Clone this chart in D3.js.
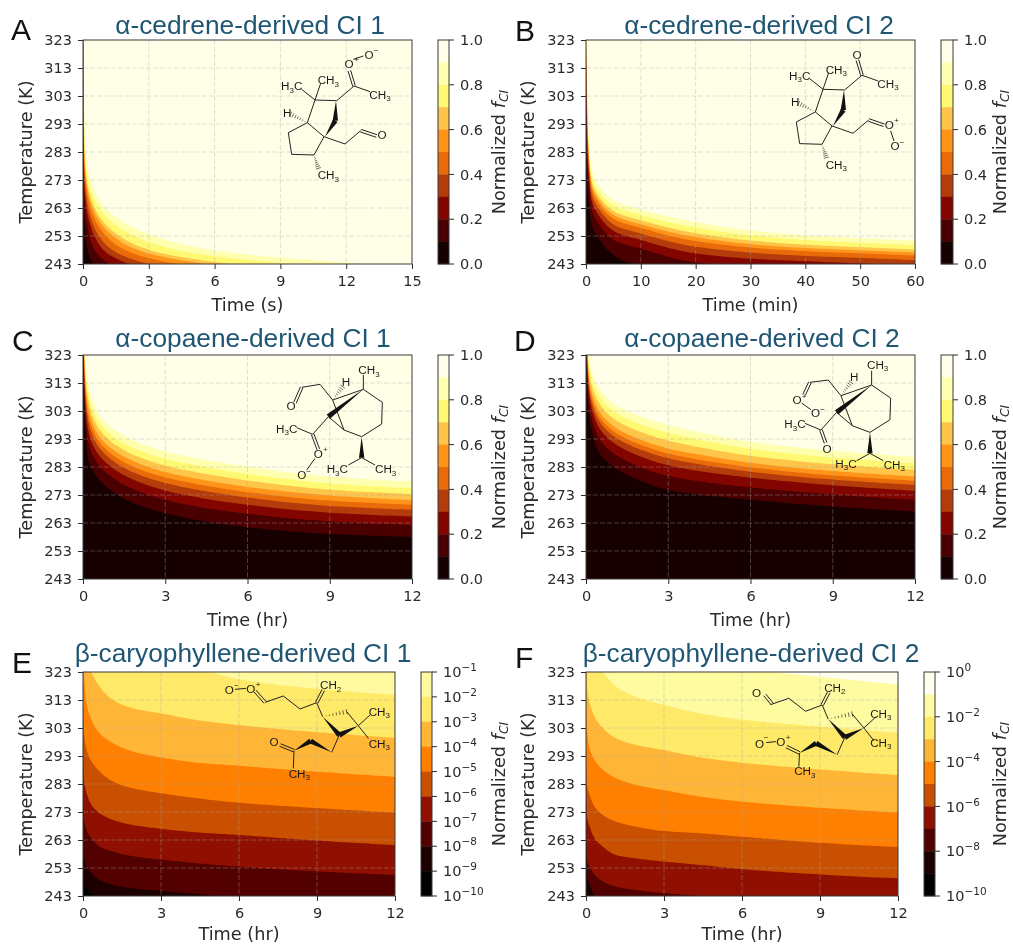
<!DOCTYPE html>
<html><head><meta charset="utf-8">
<script src="https://cdnjs.cloudflare.com/ajax/libs/d3/7.8.5/d3.min.js"></script>
<style>
html,body{margin:0;padding:0;background:#fff}
svg{display:block;filter:blur(0.35px)}
</style></head><body>
<script>
// ---------- shared ticks ----------
const tempTicks=[243,253,263,273,283,293,303,313,323];
const timeTicks12=[0,3,6,9,12];
const timeTicks15=[0,3,6,9,12,15];
const timeTicks60=[0,10,20,30,40,50,60];
const linearTicks=[0,0.2,0.4,0.6,0.8,1];
const linearLevels=[0,0.1,0.2,0.3,0.4,0.5,0.6,0.7,0.8,0.9,1];
const logLevelsE=[-10,-9,-8,-7,-6,-5,-4,-3,-2,-1];
const logLevelsF=[-10,-9,-8,-7,-6,-5,-4,-3,-2,-1,0];
const logTicksE=[-10,-9,-8,-7,-6,-5,-4,-3,-2,-1];
const logTicksF=[-10,-8,-6,-4,-2,0];
// band colours, top band first
const linearColors=["#ffffe8","#ffffb0","#fff872","#ffc44a","#ff9418","#e86a08","#b33c0a","#830500","#4a0000","#170000"];
const logColorsE=["#fff9a0","#ffe968","#ffb636","#ff8000","#c85000","#8f1000","#530000","#1c0000","#000000"];
const logColorsF=["#fffff0","#fffba0","#ffe968","#ffb636","#ff8000","#c85000","#8f1000","#530000","#1c0000","#000000"];

// ---------- panel A: crossing times (s) of each contour at aTemps ----------
const aTemps=[323,303,287.5,278.5,271.6,267,260.8,257.2,252.8,249.9,247.2,244.7,243];
const aTimes=[
 [.03,.05,.1,.2,.4,.66,1.32,2,3.3,4.6,6.6,9.9,13.2],
 [.022,.036,.073,.144,.29,.48,.96,1.44,2.4,3.36,4.8,7.2,9.6],
 [.016,.026,.052,.1,.2,.34,.68,1.02,1.7,2.38,3.4,5.1,6.8],
 [.013,.021,.043,.084,.17,.28,.56,.84,1.4,1.96,2.8,4.2,5.6],
 [.01,.016,.033,.065,.13,.22,.43,.65,1.08,1.5,2.15,3.2,4.3],
 [.007,.011,.023,.045,.09,.15,.3,.45,.75,1.05,1.5,2.25,3],
 [.005,.008,.016,.032,.063,.11,.21,.32,.53,.74,1.05,1.58,2.1],
 [.003,.005,.009,.018,.036,.06,.12,.18,.3,.42,.6,.9,1.2],
 [.001,.002,.004,.007,.014,.024,.047,.07,.12,.16,.24,.35,.47]];

// ---------- panel B: contour temperatures (K) at bTimes (min) ----------
const bTimes=[.1,.2,.5,1,2.5,5.5,10,20,30,40,50,60];
const bContours=[
 [323,308,288,277,270.5,265.3,262.5,258,255,253.2,252.2,251.4],
 [318.7,304.3,285.7,275,268.6,263.3,260.5,256,253.2,251.6,250.6,249.8],
 [314.4,300.6,283.4,273.1,266.7,261.4,258.6,254,251.4,249.9,249,248.2],
 [311.4,298,281.8,271.7,265.4,260,257.2,252.6,250.1,248.7,247.9,247.1],
 [308.4,295.4,280.2,270.4,264.1,258.6,255.9,251.2,248.9,247.6,246.8,246],
 [304.1,291.7,277.9,268.4,262.2,256.6,253.9,249.2,247.1,245.9,245.2,244.4],
 [298.9,287.3,275.1,266.1,259.9,254.3,251.6,246.8,244.9,244,243.2,242.4],
 [292,281.4,271.4,263,256.9,251.1,248.5,243.6,242,241,240.5,239.9],
 [280,271,265,257.5,251.6,245.6,242,238,237,236.7,236.2,235.4]];

// ---------- panel C: contour temperatures (K) at cTimes (hr) ----------
const cTimes=[.02,.05,.1,.2,.5,1,2,3,4.5,6,9,12];
const cContours=[
 [340,330,320,312.8,303.3,297.4,291.8,288.5,285.5,283.1,279.6,277.8],
 [337,326.8,316.9,309.5,300.5,294.7,289.1,285.9,282.9,280.5,277.1,275.4],
 [334.3,323.9,314.1,306.6,297.9,292.3,286.7,283.5,280.5,278.2,274.9,273.3],
 [331.7,321,311.3,303.7,295.4,289.9,284.4,281.2,278.2,275.9,272.8,271.2],
 [329.5,318.7,309.1,301.3,293.3,287.9,282.4,279.3,276.3,274,271,269.5],
 [327.3,316.2,306.7,298.9,291.2,285.9,280.4,277.3,274.3,272.1,269.1,267.7],
 [324.3,313,303.6,295.6,288.4,283.2,277.8,274.6,271.6,269.5,266.7,265.3],
 [320.5,308.9,299.7,291.5,284.8,279.8,274.4,271.3,268.3,266.3,263.6,262.3],
 [315,303,294,285.5,279.6,274.8,269.5,266.5,263.5,261.5,259.1,258]];

// ---------- panel D ----------
const dTimes=[.02,.05,.1,.2,.5,1,2,3,4.5,6,9,12];
const dContours=[
 [345,332,323.6,317.5,311,305.7,301,298,294.7,292,288.8,286.7],
 [341.7,329.2,321,314.9,308.2,303,298.2,295.2,292,289.5,286.4,284.3],
 [338.4,326.5,318.4,312.4,305.5,300.3,295.5,292.4,289.4,287,284,282],
 [335.1,323.7,315.8,309.8,302.7,297.6,292.7,289.6,286.8,284.5,281.6,279.6],
 [332.9,321.9,314.1,308.1,300.8,295.8,290.9,287.8,285,282.9,280,278.1],
 [330.8,320.2,312.5,306.5,299.1,294.1,289.2,286.1,283.4,281.3,278.5,276.6],
 [328,317.7,310.2,304.3,296.7,291.7,286.7,283.6,281,279.2,276.5,274.5],
 [323.4,313.9,306.6,300.8,292.9,288,282.9,279.8,277.4,275.7,273.2,271.3],
 [317.5,309,302,296.2,287.9,283.1,278,274.8,272.7,271.3,268.9,267.1]];

// ---------- panel E ----------
const eTimes=[.04,.14,.33,.65,1.17,1.94,3,4.4,6,9,12];
const eContours=[
 [360,350,345,340,335,331,328,324.5,320.4,317,314.8],
 [345,330,323,317.7,312.9,310,308.2,305.8,304,301.5,299.5],
 [322,311.8,305.8,301,297.5,294.5,292.5,290.6,289.5,287.4,285.6],
 [301,295.1,291,287.4,283.8,281.4,279.7,277.9,276.3,274.4,272.8],
 [284.4,279.7,275.5,272.5,270.1,268.3,267,265.7,264.8,262.8,261.2],
 [270.7,266.6,263.6,260.6,258.8,257.2,256,254.7,253.5,251.8,250.5],
 [257,253.5,251.1,248.7,246.9,245.7,244.8,243.7,242.6,241,240],
 [247.5,245.7,243.7,241.8,240,238.5,237,236,235,233,232]];

// ---------- panel F ----------
const fTimes=[.04,.14,.33,.65,1.17,1.94,3,4.4,6,9,12];
const fContours=[
 [360,355,350,345,340,336,332,328,324.5,321.3,318.6],
 [345,335,328,323,317.7,314,311.2,308.2,306,303.5,301.3],
 [317.7,311.8,307,302.9,299.3,296.9,295.1,292.5,290.6,288.2,286.2],
 [302.3,295.7,291.6,288,285,282.6,280.8,278.5,276.7,274.5,272.8],
 [282.6,279,274.9,271.9,269.5,267.7,266.2,265.4,264.2,262,260.5],
 [271.3,267.8,263.6,260.6,257.6,256.4,255.3,254.1,252.6,250.7,249.3],
 [255.9,253.5,250.6,248.2,246.3,245.1,244,243,241.8,240,238],
 [250,247.5,243,241.5,240,238,236,235,234,232,231]];

// ---------- molecule drawings, in reference-crop units ----------
const cedreneBonds=[[945,300,1010,302],[945,300,922,368],[922,368,972,410],[922,368,865,398],[865,398,875,463],[875,463,942,465],[942,465,972,410],
 [945,300,905,268],[945,300,962,250],[1010,302,1062,258],[1062,258,1110,275],[972,410,1035,432],[1035,432,1082,392],
 [1008,302,1006,362,"w"],[975,410,1006,362,"w"],[922,368,872,342,"h"],[942,465,955,505,"h"]];
const cedrene1Extra=[[1062,258,1048,212,"d"],[1082,392,1130,408,"d"],[1060,178,1090,168]];
const cedrene1Labels=[[875,258,"H3C"],[985,240,"CH3"],[1047,192,"O"],[1070,174,"+",1],[1107,163,"O"],[1128,147,"−",1],[1140,283,"CH3"],[862,337,"H"],[1146,405,"O"],[985,525,"CH3"]];
const cedrene2Extra=[[1062,258,1048,212,"d"],[1082,392,1128,408,"d"],[1148,425,1158,455]];
const cedrene2Labels=[[875,258,"H3C"],[985,240,"CH3"],[1047,195,"O"],[1144,407,"O"],[1166,389,"+",1],[1161,470,"O"],[1182,455,"−",1],[1140,283,"CH3"],[862,337,"H"],[985,525,"CH3"]];
const copaeneBonds=[[998,240,1090,208],[1090,208,1147,247],[1147,247,1145,312],[1145,312,1085,350],[1085,350,1032,330],[998,240,1032,330],[985,290,1032,330],
 [1090,208,985,290,"w"],[998,240,1028,200,"h"],[1090,208,1090,165],[985,290,938,343],[938,343,890,323],[1085,350,1085,413,"w"],[1085,413,1045,435],[1085,413,1125,435]];
const copaene1Extra=[[998,240,960,193],[960,193,905,202],[905,202,885,248,"d"],[938,343,955,388,"d"],[945,415,920,450]];
const copaene1Labels=[[873,257,"O"],[1038,185,"H"],[1107,150,"CH3"],[860,325,"H3C"],[955,400,"O"],[976,383,"+",1],[905,465,"O"],[926,450,"−",1],[1012,447,"H3C"],[1157,447,"CH3"]];
const copaene2Extra=[[998,240,960,193],[960,193,905,200],[905,200,887,238,"d"],[938,343,952,382,"d"],[880,262,908,282]];
const copaene2Labels=[[866,253,"O"],[887,236,"+",1],[922,290,"O"],[943,275,"−",1],[1038,183,"H"],[1108,146,"CH3"],[860,325,"H3C"],[956,398,"O"],[1013,443,"H3C"],[1158,446,"CH3"]];
const caryoBonds=[[795,202,850,183],[850,183,900,222],[900,222,950,203],[950,203,970,165,"d"],[950,203,968,245],[968,245,1018,300,"w"],[1075,272,1018,300,"w"],
 [968,245,1040,230,"h"],[1040,230,1075,272],[1075,272,1110,240],[1075,272,1105,310],[1018,300,995,352],[995,352,932,318,"w"],[882,347,932,318,"w"]];
const caryo1Extra=[[705,163,738,160],[765,168,795,202,"d"],[882,347,840,330,"d"],[882,347,880,400]];
const caryo1Labels=[[688,163,"O"],[710,147,"−",1],[752,160,"O"],[774,143,"+",1],[992,150,"CH2"],[1138,230,"CH3"],[1138,325,"CH3"],[822,320,"O"],[898,415,"CH3"]];
const caryo2Extra=[[778,173,800,200,"d"],[882,347,843,328,"d"],[782,316,811,313],[882,347,880,388]];
const caryo2Labels=[[753,165,"O"],[762,318,"O"],[782,296,"−",1],[826,313,"O"],[848,295,"+",1],[988,150,"CH2"],[1126,228,"CH3"],[1126,315,"CH3"],[898,401,"CH3"]];

const W=1013,H=945;
const svg=d3.select("body").append("svg").attr("width",W).attr("height",H);
svg.append("rect").attr("width",W).attr("height",H).attr("fill","#fff");
const sans="'DejaVu Sans',sans-serif", arial="'Liberation Sans',Arial,sans-serif";
const ink="#2a2a2a";

function series(kind,xs,ys){ // returns contour point lists, each running from t small to t large
  if(kind==="byTemp") return xs.map(times=>times.map((t,i)=>({t,T:ys[i]})));
  return ys.map(temps=>temps.map((T,i)=>({t:xs[i],T})));
}
// draw each contour as a smooth monotone curve on a log-time base, so the sparse readings don't make steps
function smoothPath(points){
  const u=points.map(d=>Math.log(d.t)), v=points.map(d=>d.T), n=u.length;
  const s=d3.range(n-1).map(i=>(v[i+1]-v[i])/(u[i+1]-u[i]));
  const m=d3.range(n).map(i=>{
    if(i===0) return s[0];
    if(i===n-1) return s[n-2];
    return s[i-1]*s[i]<=0?0:2*s[i-1]*s[i]/(s[i-1]+s[i]);
  });
  const out=[];
  for(let i=0;i<n-1;i++){
    const h=u[i+1]-u[i];
    for(let k=0;k<16;k++){
      const a=k/16,a2=a*a,a3=a2*a;
      out.push({t:Math.exp(u[i]+a*h),
        T:(2*a3-3*a2+1)*v[i]+(a3-2*a2+a)*h*m[i]+(-2*a3+3*a2)*v[i+1]+(a3-a2)*h*m[i+1]});
    }
  }
  out.push(points[n-1]);
  return out;
}
const panels=[
 {key:"A",title:"α-cedrene-derived CI 1",tx:250,ty:34,lx:11,ly:40,x:83,y:40,w:329,h:224,cx:438,cw:11,tMax:15,ticks:timeTicks15,unit:"Time (s)",
  lines:series("byTemp",aTimes,aTemps),colors:linearColors,levels:linearLevels,cticks:linearTicks,log:false,xl:305,
  mol:[0,0],bonds:cedreneBonds.concat(cedrene1Extra),labels:cedrene1Labels,ylx:26,clx:499},
 {key:"B",title:"α-cedrene-derived CI 2",tx:759,ty:34,lx:515,ly:40.5,x:586,y:40,w:329,h:224,cx:941,cw:12,tMax:60,ticks:timeTicks60,unit:"Time (min)",
  lines:series("byTime",bTimes,bContours),colors:linearColors,levels:linearLevels,cticks:linearTicks,log:false,xl:305,
  mol:[508,-10.7],bonds:cedreneBonds.concat(cedrene2Extra),labels:cedrene2Labels,ylx:528,clx:1000},
 {key:"C",title:"α-copaene-derived CI 1",tx:253,ty:347,lx:12,ly:350.5,x:83,y:355,w:329,h:224,cx:438,cw:11,tMax:12,ticks:timeTicks12,unit:"Time (hr)",
  lines:series("byTime",cTimes,cContours),colors:linearColors,levels:linearLevels,cticks:linearTicks,log:false,xl:620,
  mol:[0,320],bonds:copaeneBonds.concat(copaene1Extra),labels:copaene1Labels,ylx:26,clx:499},
 {key:"D",title:"α-copaene-derived CI 2",tx:762,ty:347,lx:514,ly:351,x:586,y:355,w:329,h:224,cx:941,cw:12,tMax:12,ticks:timeTicks12,unit:"Time (hr)",
  lines:series("byTime",dTimes,dContours),colors:linearColors,levels:linearLevels,cticks:linearTicks,log:false,xl:620,
  mol:[508.3,315.7],bonds:copaeneBonds.concat(copaene2Extra),labels:copaene2Labels,ylx:528,clx:1000},
 {key:"E",title:"β-caryophyllene-derived CI 1",tx:243,ty:662,lx:12,ly:672.5,x:83,y:672,w:312,h:224,cx:421,cw:11,tMax:12,ticks:timeTicks12,unit:"Time (hr)",
  lines:series("byTime",eTimes,eContours),colors:logColorsE,levels:logLevelsE,cticks:logTicksE,log:true,xl:934,
  mol:[0,635],bonds:caryoBonds.concat(caryo1Extra),labels:caryo1Labels,ylx:26,clx:499},
 {key:"F",title:"β-caryophyllene-derived CI 2",tx:751,ty:662,lx:515,ly:668,x:586,y:672,w:312,h:224,cx:924,cw:11,tMax:12,ticks:timeTicks12,unit:"Time (hr)",
  lines:series("byTime",fTimes,fContours),colors:logColorsF,levels:logLevelsF,cticks:logTicksF,log:true,xl:934,
  mol:[505.5,637.3],bonds:caryoBonds.concat(caryo2Extra),labels:caryo2Labels,ylx:528,clx:1000}
];

function addMolecule(p){
  const g=svg.append("g").attr("transform",`translate(${p.mol[0]},${p.mol[1]}) scale(${1/3})`);
  p.bonds.forEach(b=>{
    const [x1,y1,x2,y2,kind]=b;
    const dx=x2-x1,dy=y2-y1,len=Math.hypot(dx,dy),nx=-dy/len,ny=dx/len;
    if(kind==="w"){
      g.append("path").attr("d",`M${x1},${y1}L${x2+nx*8},${y2+ny*8}L${x2-nx*8},${y2-ny*8}Z`).attr("fill","#111");
    }else if(kind==="h"){
      const n=7;
      for(let i=1;i<=n;i++){const f=i/n,s=f*8;
        g.append("line").attr("x1",x1+dx*f+nx*s).attr("y1",y1+dy*f+ny*s).attr("x2",x1+dx*f-nx*s).attr("y2",y1+dy*f-ny*s)
         .attr("stroke","#222").attr("stroke-width",2);}
    }else{
      const off=kind==="d"?[-4,4]:[0];
      off.forEach(o=>g.append("line").attr("x1",x1+nx*o).attr("y1",y1+ny*o).attr("x2",x2+nx*o).attr("y2",y2+ny*o)
        .attr("stroke","#222").attr("stroke-width",3));
    }
  });
  p.labels.forEach(l=>{
    const t=g.append("text").attr("x",l[0]).attr("y",l[1]+13).attr("text-anchor","middle")
      .attr("font-family",arial).attr("font-size",l[3]?24:35).attr("fill","#1a1a1a");
    l[2].split(/(\d)/).filter(s=>s).forEach(s=>{
      if(/\d/.test(s)){t.append("tspan").attr("font-size",24).attr("dy",7).text(s);}
      else{const ts=t.append("tspan").text(s); if(t.selectAll("tspan").size()>1) ts.attr("dy",-7);}
    });
  });
}

panels.forEach((p,pi)=>{
  const x=d3.scaleLinear().domain([0,p.tMax]).range([p.x,p.x+p.w]);
  const y=d3.scaleLinear().domain([243,323]).range([p.y+p.h,p.y]);
  const clipId="clip"+p.key;
  svg.append("clipPath").attr("id",clipId).append("rect").attr("x",p.x).attr("y",p.y).attr("width",p.w).attr("height",p.h);
  const plot=svg.append("g").attr("clip-path",`url(#${clipId})`);
  plot.append("rect").attr("x",p.x).attr("y",p.y).attr("width",p.w).attr("height",p.h).attr("fill",p.colors[0]);
  const area=d3.area().x(d=>x(d.t)).y1(d=>y(d.T)).y0(y(243));
  plot.selectAll("path.band").data(p.lines).join("path").attr("class","band")
    .attr("d",line=>{
      const pts=line.slice().sort((a,b)=>a.t-b.t);
      return area([{t:0,T:pts[0].T+12}].concat(smoothPath(pts)));
    })
    .attr("fill",(d,i)=>p.colors[i+1]);

  // grid
  const grid=svg.append("g").attr("stroke","#a8a8a8").attr("stroke-opacity",.36).attr("stroke-width",1).attr("stroke-dasharray","5 2");
  grid.selectAll("line.v").data(p.ticks.slice(1,-1)).join("line").attr("class","v")
    .attr("x1",d=>x(d)).attr("x2",d=>x(d)).attr("y1",p.y).attr("y2",p.y+p.h);
  grid.selectAll("line.h").data(tempTicks.slice(1,-1)).join("line").attr("class","h")
    .attr("y1",d=>y(d)).attr("y2",d=>y(d)).attr("x1",p.x).attr("x2",p.x+p.w);

  addMolecule(p);

  // axes
  const ax=svg.append("g").attr("transform",`translate(0,${p.y+p.h})`).call(d3.axisBottom(x).tickValues(p.ticks).tickSize(5).tickSizeOuter(0).tickPadding(7).tickFormat(d3.format("d")));
  const ay=svg.append("g").attr("transform",`translate(${p.x},0)`).call(d3.axisLeft(y).tickValues(tempTicks).tickSize(5).tickSizeOuter(0).tickPadding(6).tickFormat(d3.format("d")));
  [ax,ay].forEach(a=>{
    a.selectAll("text").attr("font-family",sans).attr("font-size",14.5).attr("fill",ink);
    a.selectAll("line").attr("stroke",ink);
    a.select(".domain").remove();
  });
  svg.append("rect").attr("x",p.x).attr("y",p.y).attr("width",p.w).attr("height",p.h).attr("fill","none").attr("stroke","#3a3a3a").attr("stroke-width",1);

  svg.append("text").attr("x",p.x+p.w/2).attr("y",p.xl).attr("dy",".35em").attr("text-anchor","middle")
    .attr("font-family",sans).attr("font-size",17.7).attr("fill",ink).text(p.unit);
  svg.append("text").attr("transform",`translate(${p.ylx},${p.y+p.h/2}) rotate(-90)`).attr("dy",".35em").attr("text-anchor","middle")
    .attr("font-family",sans).attr("font-size",17.7).attr("fill",ink).text("Temperature (K)");
  svg.append("text").attr("x",p.tx).attr("y",p.ty).attr("text-anchor","middle")
    .attr("font-family",arial).attr("font-size",26.3).attr("fill","#1f5673").text(p.title);
  svg.append("text").attr("x",p.lx).attr("y",p.ly)
    .attr("font-family",arial).attr("font-size",30).attr("fill","#111").text(p.key);

  // colour bar
  const cb=d3.scaleLinear().domain(d3.extent(p.levels)).range([p.y+p.h,p.y]);
  const nb=p.levels.length-1;
  svg.append("g").selectAll("rect").data(d3.range(nb)).join("rect")
    .attr("x",p.cx).attr("width",p.cw)
    .attr("y",i=>cb(p.levels[nb-i])).attr("height",i=>cb(p.levels[nb-i-1])-cb(p.levels[nb-i])+.3)
    .attr("fill",i=>p.colors[i]);
  svg.append("rect").attr("x",p.cx).attr("y",p.y).attr("width",p.cw).attr("height",p.h).attr("fill","none").attr("stroke","#3a3a3a").attr("stroke-width",1);
  const cg=svg.append("g");
  const cr=p.cx+p.cw;
  cg.selectAll("line").data(p.cticks).join("line").attr("x1",cr).attr("x2",cr+5).attr("y1",d=>cb(d)).attr("y2",d=>cb(d)).attr("stroke",ink);
  p.cticks.forEach(d=>{
    const t=cg.append("text").attr("x",cr+11).attr("y",cb(d)).attr("dy",".36em").attr("font-family",sans).attr("font-size",14.5).attr("fill",ink);
    if(p.log){
      t.append("tspan").text("10");
      t.append("tspan").attr("font-size",10.5).attr("dy",-6).text(d===0?"0":"−"+Math.abs(d));
    }else t.text(d3.format(".1f")(d));
  });
  const cl=svg.append("text").attr("transform",`translate(${p.clx},${p.y+p.h/2}) rotate(-90)`).attr("dy",".35em").attr("text-anchor","middle")
    .attr("font-family",sans).attr("font-size",17.7).attr("fill",ink);
  cl.append("tspan").text("Normalized ");
  cl.append("tspan").attr("font-style","italic").text("f");
  cl.append("tspan").attr("font-style","italic").attr("font-size",12.4).attr("dy",3).text("CI");
});
</script></body></html>
